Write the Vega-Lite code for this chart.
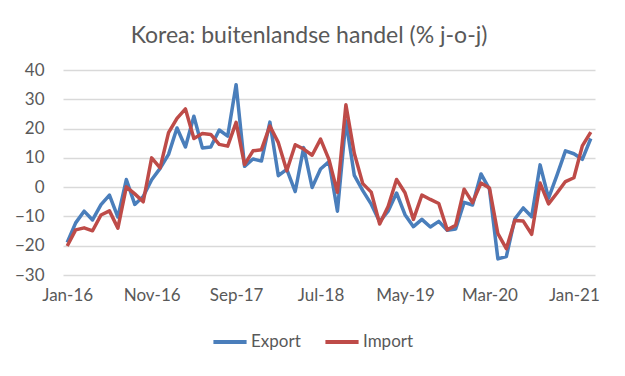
{
  "$schema": "https://vega.github.io/schema/vega-lite/v6.json",
  "autosize": {"type": "none"},
  "width": 532,
  "height": 205,
  "padding": {"left": 63, "top": 70, "right": 30, "bottom": 101},
  "background": "white",
  "config": {
    "view": {"stroke": null},
    "font": "Lato"
  },
  "title": {
    "text": "Korea: buitenlandse handel (% j-o-j)",
    "font": "Lato",
    "fontSize": 23,
    "fontWeight": "normal",
    "color": "#595959",
    "anchor": "middle",
    "dx": -20,
    "offset": 13
  },
  "data": {
    "values": [
      {"m": "Jan-16", "Export": -18.9, "Import": -20.1},
      {"m": "Feb-16", "Export": -12.2, "Import": -14.6},
      {"m": "Mar-16", "Export": -8.2, "Import": -13.9},
      {"m": "Apr-16", "Export": -11.2, "Import": -14.9},
      {"m": "May-16", "Export": -6.0, "Import": -9.5},
      {"m": "Jun-16", "Export": -2.7, "Import": -8.1},
      {"m": "Jul-16", "Export": -10.2, "Import": -14.0},
      {"m": "Aug-16", "Export": 2.6, "Import": 0.1},
      {"m": "Sep-16", "Export": -5.9, "Import": -2.3},
      {"m": "Oct-16", "Export": -3.2, "Import": -5.0},
      {"m": "Nov-16", "Export": 2.5, "Import": 10.0},
      {"m": "Dec-16", "Export": 6.4, "Import": 6.6},
      {"m": "Jan-17", "Export": 11.2, "Import": 18.6},
      {"m": "Feb-17", "Export": 20.2, "Import": 23.5},
      {"m": "Mar-17", "Export": 13.7, "Import": 26.7},
      {"m": "Apr-17", "Export": 24.2, "Import": 16.6},
      {"m": "May-17", "Export": 13.4, "Import": 18.3},
      {"m": "Jun-17", "Export": 13.7, "Import": 18.0},
      {"m": "Jul-17", "Export": 19.5, "Import": 14.6},
      {"m": "Aug-17", "Export": 17.4, "Import": 14.0},
      {"m": "Sep-17", "Export": 35.0, "Import": 22.1},
      {"m": "Oct-17", "Export": 7.1, "Import": 7.7},
      {"m": "Nov-17", "Export": 9.6, "Import": 12.4},
      {"m": "Dec-17", "Export": 8.9, "Import": 12.8},
      {"m": "Jan-18", "Export": 22.2, "Import": 20.9},
      {"m": "Feb-18", "Export": 3.9, "Import": 15.2},
      {"m": "Mar-18", "Export": 6.1, "Import": 5.6},
      {"m": "Apr-18", "Export": -1.5, "Import": 14.5},
      {"m": "May-18", "Export": 13.5, "Import": 13.0},
      {"m": "Jun-18", "Export": -0.1, "Import": 10.9},
      {"m": "Jul-18", "Export": 6.2, "Import": 16.4},
      {"m": "Aug-18", "Export": 8.7, "Import": 9.4},
      {"m": "Sep-18", "Export": -8.2, "Import": -1.8},
      {"m": "Oct-18", "Export": 22.7, "Import": 28.1},
      {"m": "Nov-18", "Export": 4.0, "Import": 11.5},
      {"m": "Dec-18", "Export": -1.2, "Import": 1.2},
      {"m": "Jan-19", "Export": -5.8, "Import": -1.7},
      {"m": "Feb-19", "Export": -11.8, "Import": -12.6},
      {"m": "Mar-19", "Export": -8.2, "Import": -6.6},
      {"m": "Apr-19", "Export": -2.0, "Import": 2.6},
      {"m": "May-19", "Export": -9.4, "Import": -1.9},
      {"m": "Jun-19", "Export": -13.5, "Import": -11.0},
      {"m": "Jul-19", "Export": -11.0, "Import": -2.7},
      {"m": "Aug-19", "Export": -13.6, "Import": -4.2},
      {"m": "Sep-19", "Export": -11.7, "Import": -5.6},
      {"m": "Oct-19", "Export": -14.7, "Import": -14.6},
      {"m": "Nov-19", "Export": -14.3, "Import": -13.0},
      {"m": "Dec-19", "Export": -5.2, "Import": -0.7},
      {"m": "Jan-20", "Export": -6.1, "Import": -5.3},
      {"m": "Feb-20", "Export": 4.5, "Import": 1.4},
      {"m": "Mar-20", "Export": -0.7, "Import": -0.3},
      {"m": "Apr-20", "Export": -24.5, "Import": -15.9},
      {"m": "May-20", "Export": -23.7, "Import": -21.0},
      {"m": "Jun-20", "Export": -10.9, "Import": -11.4},
      {"m": "Jul-20", "Export": -7.1, "Import": -11.6},
      {"m": "Aug-20", "Export": -10.1, "Import": -16.1},
      {"m": "Sep-20", "Export": 7.6, "Import": 1.4},
      {"m": "Oct-20", "Export": -3.8, "Import": -5.7},
      {"m": "Nov-20", "Export": 4.1, "Import": -2.0},
      {"m": "Dec-20", "Export": 12.4, "Import": 1.9},
      {"m": "Jan-21", "Export": 11.4, "Import": 3.2},
      {"m": "Feb-21", "Export": 9.5, "Import": 14.1},
      {"m": "Mar-21", "Export": 16.6, "Import": 18.8}
    ]
  },
  "transform": [
    {"fold": ["Export", "Import"], "as": ["serie", "waarde"]}
  ],
  "mark": {"type": "line", "strokeWidth": 3.5, "strokeJoin": "round"},
  "encoding": {
    "x": {
      "field": "m",
      "type": "ordinal",
      "sort": null,
      "scale": {"type": "point", "padding": 0.5},
      "axis": {
        "title": null,
        "values": ["Jan-16", "Nov-16", "Sep-17", "Jul-18", "May-19", "Mar-20", "Jan-21"],
        "labelAngle": 0,
        "labelFontSize": 17,
        "labelColor": "#595959",
        "labelFont": "Lato",
        "labelPadding": 12,
        "ticks": false,
        "domain": false,
        "grid": false
      }
    },
    "y": {
      "field": "waarde",
      "type": "quantitative",
      "scale": {"domain": [-30, 40], "nice": false},
      "axis": {
        "title": null,
        "values": [-30, -20, -10, 0, 10, 20, 30, 40],
        "labelFontSize": 17,
        "labelColor": "#595959",
        "labelFont": "Lato",
        "labelPadding": 19,
        "ticks": false,
        "domain": false,
        "gridColor": "#d9d9d9",
        "gridWidth": 1.5
      }
    },
    "color": {
      "field": "serie",
      "type": "nominal",
      "scale": {"domain": ["Export", "Import"], "range": ["#4a7ebb", "#be4b48"]},
      "legend": {
        "title": null,
        "orient": "none",
        "legendX": 148,
        "legendY": 253,
        "direction": "horizontal",
        "symbolType": "stroke",
        "symbolSize": 1100,
        "symbolStrokeWidth": 4,
        "labelFontSize": 17,
        "labelColor": "#595959",
        "labelFont": "Lato",
        "labelOffset": 2,
        "columnPadding": 16
      }
    }
  }
}
